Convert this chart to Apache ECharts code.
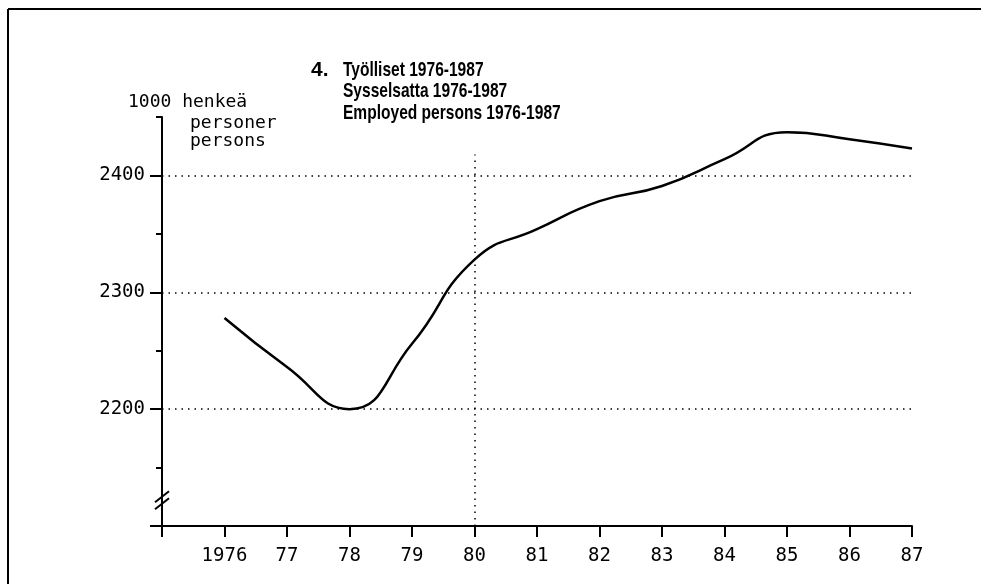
<!DOCTYPE html>
<html>
<head>
<meta charset="utf-8">
<title>Työlliset 1976-1987</title>
<script src="https://cdn.jsdelivr.net/npm/echarts@6/dist/echarts.min.js"></script>
<style>
  html, body { margin: 0; padding: 0; background: #fff; }
  #main { width: 981px; height: 584px; }
</style>
</head>
<body>
<div id="main"></div>
<script>
// employed persons, 1000 persons
var years = [1976, 1977, 1978, 1979, 1980, 1981, 1982, 1983, 1984, 1985, 1986, 1987];
var employed = [2278, 2236, 2200, 2256, 2328, 2354, 2378, 2391, 2414, 2437, 2431, 2423];
var yMajor = [2100, 2200, 2300, 2400];
var yMinor = [2150, 2250, 2350, 2450];
var yLabels = [2200, 2300, 2400];
var gridValues = [2200, 2300, 2400];
var markYear = 1980;
var titleLines = ['Työlliset 1976-1987', 'Sysselsatta 1976-1987', 'Employed persons 1976-1987'];
var unitLines = ['1000 henkeä', 'personer', 'persons'];

var mono = '"DejaVu Sans Mono", monospace';
var myChart = echarts.init(document.getElementById('main'));

function xLabel(v) {
    if (v === 1975) return '';
    if (v === 1976) return '1976';
    return String(v).slice(2);
}

myChart.setOption({
    animation: false,
    backgroundColor: '#fff',
    grid: { left: 162, top: 117, width: 750, height: 409 },
    xAxis: {
        type: 'value',
        min: 1975,
        max: 1987,
        interval: 1,
        splitLine: { show: false },
        axisLine: { lineStyle: { color: '#000', width: 2 } },
        axisTick: { length: 11, lineStyle: { color: '#000', width: 2 } },
        axisLabel: {
            formatter: xLabel,
            margin: 21,
            color: '#000',
            fontFamily: mono,
            fontSize: 19
        }
    },
    yAxis: [{
        type: 'value',
        min: 2100,
        max: 2450,
        splitLine: { show: false },
        axisLine: { show: true, lineStyle: { color: '#000', width: 2 } },
        axisTick: { show: true, customValues: yMajor, length: 12, lineStyle: { color: '#000', width: 2 } },
        axisLabel: {
            customValues: yLabels,
            formatter: function (v) { return String(v); },
            margin: 17,
            color: '#000',
            fontFamily: mono,
            fontSize: 19
        }
    }, {
        type: 'value',
        min: 2100,
        max: 2450,
        position: 'left',
        splitLine: { show: false },
        axisLine: { show: false },
        axisTick: { show: true, customValues: yMinor, length: 6, lineStyle: { color: '#000', width: 2 } },
        axisLabel: { show: false }
    }],
    series: [{
        type: 'line',
        smooth: true,
        showSymbol: false,
        silent: true,
        lineStyle: { color: '#000', width: 2.5 },
        data: years.map(function (y, i) { return [y, employed[i]]; }),
        markLine: {
            silent: true,
            symbol: 'none',
            label: { show: false },
            lineStyle: { color: '#000', width: 1.5, type: [1.5, 5] },
            data: gridValues.map(function (v) { return { yAxis: v }; }).concat([
                [{ coord: [markYear, 2100] }, { coord: [markYear, 2418] }]
            ])
        }
    }]
});

// frame, title texts, unit texts and the axis break marks
var brk = myChart.convertToPixel({ yAxisIndex: 0 }, 2122);
var axX = myChart.convertToPixel({ xAxisIndex: 0 }, 1975);

var graphics = [
    { type: 'line', shape: { x1: 8, y1: 9, x2: 981, y2: 9 }, style: { stroke: '#000', lineWidth: 2 } },
    { type: 'line', shape: { x1: 8, y1: 9, x2: 8, y2: 584 }, style: { stroke: '#000', lineWidth: 2 } },
    { type: 'text', x: 311, y: 70, style: { text: '4.', font: 'bold 21px "Liberation Sans"', fill: '#000', verticalAlign: 'middle' } },
    { type: 'rect', shape: { x: axX - 3, y: brk - 5, width: 6, height: 8 }, style: { fill: '#fff' } },
    { type: 'line', shape: { x1: axX - 7, y1: brk + 2, x2: axX + 7, y2: brk - 9 }, style: { stroke: '#000', lineWidth: 2 } },
    { type: 'line', shape: { x1: axX - 7, y1: brk + 9, x2: axX + 7, y2: brk - 2 }, style: { stroke: '#000', lineWidth: 2 } }
];
titleLines.forEach(function (t, i) {
    graphics.push({
        type: 'text', x: 343, y: 70 + i * 21.5, scaleX: 0.74,
        style: { text: t, font: 'bold 21px "Liberation Sans"', fill: '#000', verticalAlign: 'middle' }
    });
});
var unitPos = [[128, 102], [190, 123], [190, 141]];
unitLines.forEach(function (t, i) {
    graphics.push({
        type: 'text', x: unitPos[i][0], y: unitPos[i][1],
        style: { text: t, font: '18px ' + mono, fill: '#000', verticalAlign: 'middle' }
    });
});
myChart.setOption({ graphic: graphics });
</script>
</body>
</html>
